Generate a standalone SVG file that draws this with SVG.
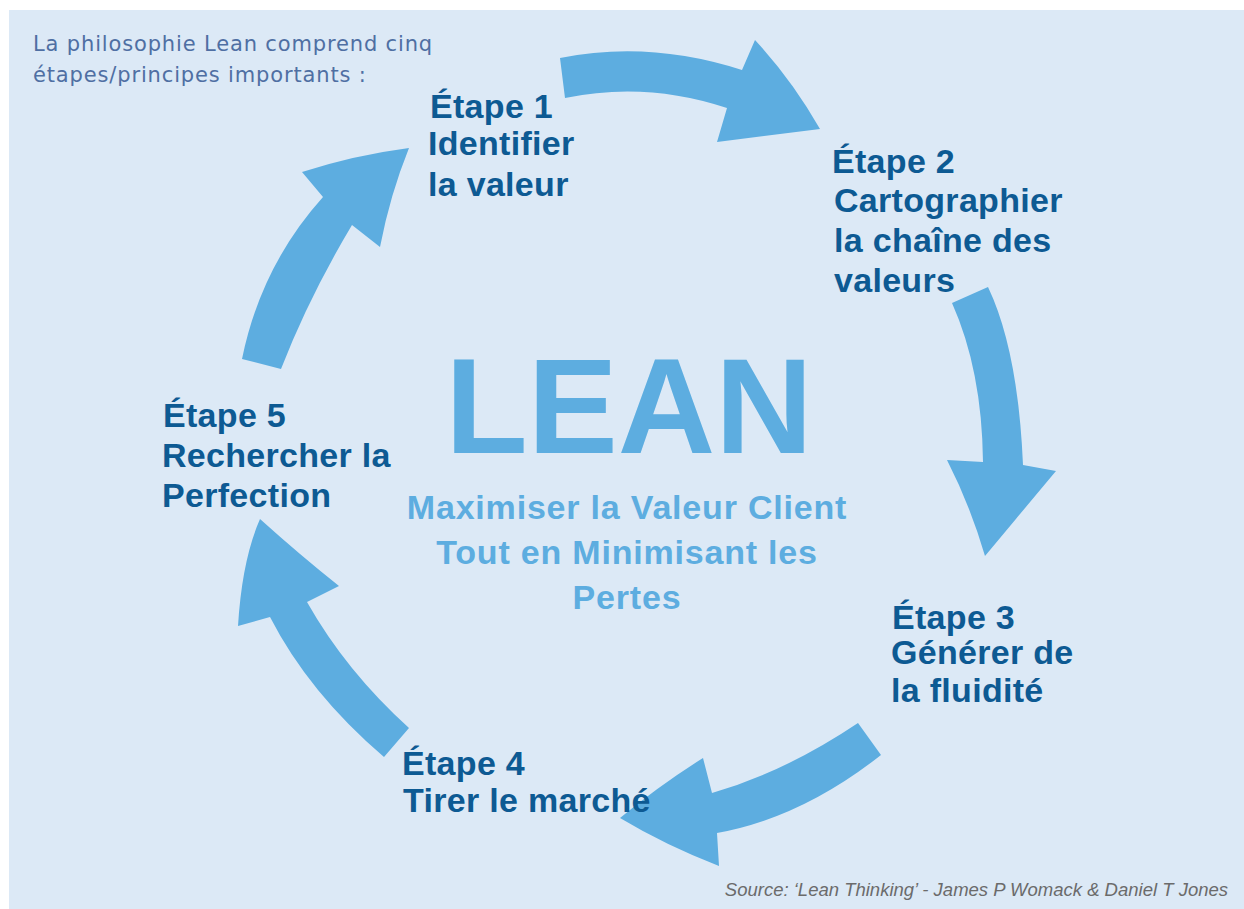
<svg xmlns="http://www.w3.org/2000/svg" width="1244" height="909" viewBox="0 0 1244 909">
<style>
.bg{fill:#dce9f6}
.arrow{fill:#5dade0}
.step{font-family:"Liberation Sans",Arial,sans-serif;font-weight:bold;font-size:34px;letter-spacing:0.3px;fill:#0d5a93}
.intro{font-family:"DejaVu Sans",Verdana,sans-serif;font-size:21px;letter-spacing:0.85px;fill:#4f6fa3}
.lean{font-family:"Liberation Sans",Arial,sans-serif;font-weight:bold;font-size:135px;fill:#5dade0}
.sub{font-family:"Liberation Sans",Arial,sans-serif;font-weight:bold;font-size:34px;letter-spacing:0.8px;fill:#5dade0}
.src{font-family:"Liberation Sans",Arial,sans-serif;font-style:italic;font-size:18.5px;fill:#6b6b6b}
</style>
<rect width="1244" height="909" fill="#ffffff"/>
<rect class="bg" x="9" y="10" width="1235" height="899"/>
<text class="intro" x="33" y="51">La philosophie Lean comprend cinq</text>
<text class="intro" x="33" y="82">étapes/principes importants :</text>
<g id="connectors">
<path class="arrow" d="M560,58 Q649,40 742,70 L755,40 Q792,80 820,129 L717,142 L727,108 Q646,81 565,98 Z"/>
<path class="arrow" d="M988,287 Q1018,350 1023,465 L1056,471 Q1015,520 985,556 Q970,505 947,460 L983,462 Q982,370 952,303 Z"/>
<path class="arrow" d="M881,755 Q801,818 717,833 L719,866 Q665,845 620,818 Q660,785 703,758 L712,793 Q785,772 858,723 Z"/>
<path class="arrow" d="M384,757 Q309,693 270,617 L238,626 Q242,560 260,519 Q300,555 339,586 L307,602 Q346,671 409,728 Z"/>
<path class="arrow" d="M242,359 Q261,266 323,197 L302,172 Q355,155 409,148 Q390,195 380,247 L352,225 Q309,297 281,369 Z"/>
</g>
<g id="center">
<text class="lean" x="629" y="453" text-anchor="middle">LEAN</text>
<text class="sub" x="627" y="519" text-anchor="middle">Maximiser la Valeur Client</text>
<text class="sub" x="627" y="564" text-anchor="middle">Tout en Minimisant les</text>
<text class="sub" x="627" y="609" text-anchor="middle">Pertes</text>
</g>
<g id="step1">
<text class="step" x="430" y="118">Étape 1</text>
<text class="step" x="428" y="155">Identifier</text>
<text class="step" x="428" y="196">la valeur</text>
</g>
<g id="step2">
<text class="step" x="832" y="173">Étape 2</text>
<text class="step" x="834" y="212">Cartographier</text>
<text class="step" x="834" y="252">la chaîne des</text>
<text class="step" x="834" y="292">valeurs</text>
</g>
<g id="step3">
<text class="step" x="892" y="629">Étape 3</text>
<text class="step" x="891" y="664">Générer de</text>
<text class="step" x="891" y="702">la fluidité</text>
</g>
<g id="step4">
<text class="step" x="402" y="775">Étape 4</text>
<text class="step" x="403" y="812">Tirer le marché</text>
</g>
<g id="step5">
<text class="step" x="163" y="427">Étape 5</text>
<text class="step" x="162" y="467">Rechercher la</text>
<text class="step" x="162" y="507">Perfection</text>
</g>
<text class="src" x="1228" y="896" text-anchor="end">Source: ‘Lean Thinking’ - James P Womack &amp; Daniel T Jones</text>
</svg>
